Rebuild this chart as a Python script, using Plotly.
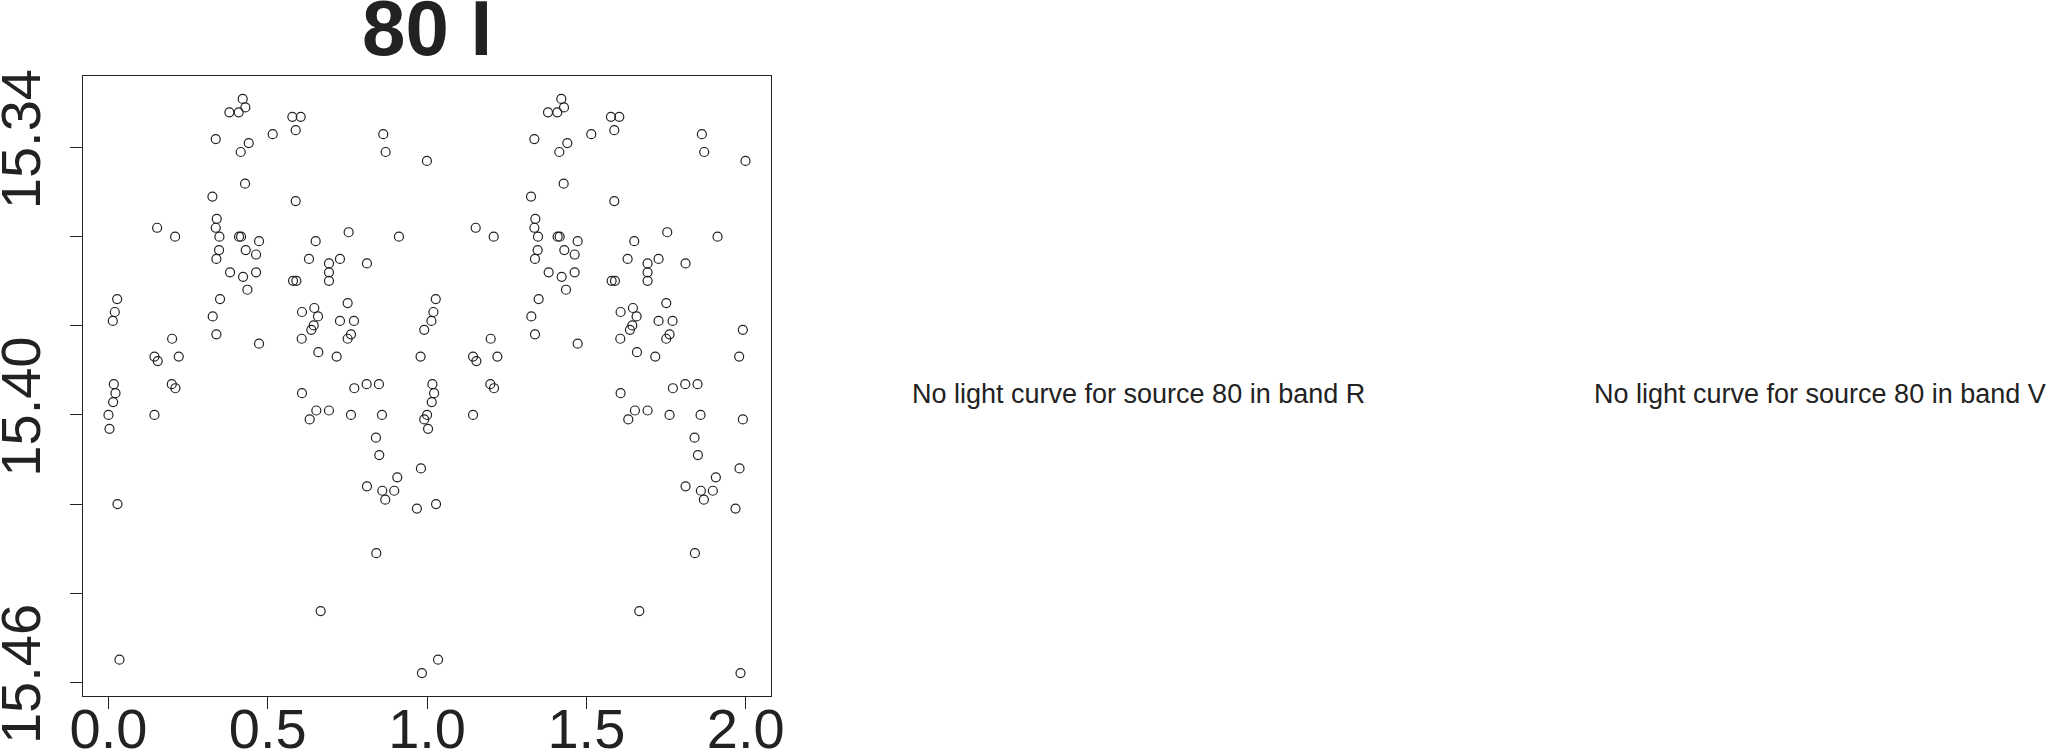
import plotly.graph_objects as go

# Phase-folded light curve, source 80, band I (phase in [0,1), magnitude)
phase = [0.4213, 0.3795, 0.4088, 0.4297, 0.5771, 0.6033, 0.5876, 0.5154, 0.3367, 0.4402,
         0.4151, 0.8625, 0.8699, 0.9995, 0.4287, 0.3262, 0.5876, 0.1526, 0.2091, 0.3398,
         0.3367, 0.3482, 0.4098, 0.4161, 0.4726, 0.3471, 0.4308, 0.4632, 0.3387, 0.3816,
         0.4224, 0.4632, 0.4360, 0.3502, 0.3272, 0.3387, 0.4726, 0.6503, 0.7538, 0.9117,
         0.6294, 0.6921, 0.7266, 0.8113, 0.6921, 0.5792, 0.5897, 0.6921, 0.0272, 0.0199,
         0.0136, 0.1997, 0.1443, 0.1547, 0.2206, 0.6074, 0.6461, 0.6576, 0.7507, 0.7266,
         0.7705, 0.6441, 0.6367, 0.7611, 0.7507, 0.6064, 0.6587, 0.7162, 0.9796, 0.9911,
         0.0167, 0.1986, 0.2101, 0.0220, 0.0146, 0.0000, 0.0031, 0.1443, 0.0282, 0.0345,
         0.6074, 0.6524, 0.6921, 0.6315, 0.7611, 0.8584, 0.7716, 0.8103, 0.8489, 0.8395,
         0.8500, 0.9807, 0.9064, 0.8113, 0.8594, 0.8970, 0.8688, 0.9681, 0.8406, 0.6660,
         0.9838, 0.9911]
mag = [15.3291, 15.3321, 15.3321, 15.3310, 15.3331, 15.3331, 15.3361, 15.3370, 15.3381, 15.3390,
       15.3410, 15.3370, 15.3410, 15.3430, 15.3481, 15.3510, 15.3520, 15.3580, 15.3600, 15.3560,
       15.3580, 15.3600, 15.3600, 15.3600, 15.3610, 15.3630, 15.3630, 15.3640, 15.3650, 15.3680,
       15.3690, 15.3680, 15.3719, 15.3740, 15.3779, 15.3819, 15.3840, 15.3610, 15.3590, 15.3600,
       15.3650, 15.3660, 15.3650, 15.3660, 15.3680, 15.3699, 15.3699, 15.3699, 15.3740, 15.3769,
       15.3789, 15.3829, 15.3869, 15.3879, 15.3869, 15.3769, 15.3760, 15.3779, 15.3749, 15.3789,
       15.3789, 15.3799, 15.3809, 15.3819, 15.3829, 15.3829, 15.3859, 15.3869, 15.3869, 15.3809,
       15.3931, 15.3931, 15.3940, 15.3951, 15.3971, 15.4000, 15.4031, 15.4000, 15.4200, 15.4549,
       15.3951, 15.3990, 15.3990, 15.4010, 15.4000, 15.4000, 15.3940, 15.3931, 15.3931, 15.4051,
       15.4090, 15.4120, 15.4140, 15.4160, 15.4170, 15.4170, 15.4190, 15.4210, 15.4310, 15.4440,
       15.4579, 15.4010]

x_tickvals = [0.0, 0.5, 1.0, 1.5, 2.0]
x_ticktext = ["0.0", "0.5", "1.0", "1.5", "2.0"]
y_tickvals = [15.34, 15.36, 15.38, 15.40, 15.42, 15.44, 15.46]
y_ticktext = ["15.34", "", "", "15.40", "", "", "15.46"]

title_text = "80 I"
missing_R = "No light curve for source 80 in band R"
missing_V = "No light curve for source 80 in band V"

# two cycles shown: phase and phase + 1
x_all = phase + [p + 1 for p in phase]
y_all = mag + mag

INK = "#222222"
FONT = "Liberation Sans, Arial, Helvetica, sans-serif"

fig = go.Figure()
fig.add_trace(go.Scatter(
    x=x_all, y=y_all, mode="markers",
    marker=dict(symbol="circle-open", size=9, color=INK, line=dict(width=1.2, color=INK)),
    showlegend=False, hoverinfo="x+y",
))

xmin, xmax = min(x_all), max(x_all)
ymin, ymax = min(y_all), max(y_all)
xpad = 0.04 * (xmax - xmin)
ypad = 0.04 * (ymax - ymin)

fig.update_layout(
    width=2050, height=753,
    margin=dict(l=83, r=1279, t=76, b=57, autoexpand=False),
    paper_bgcolor="white", plot_bgcolor="white",
    font=dict(family=FONT, color=INK),
    xaxis=dict(
        range=[xmin - xpad, xmax + xpad],
        tickvals=x_tickvals, ticktext=x_ticktext,
        ticks="outside", ticklen=12, tickwidth=1, tickcolor=INK,
        showline=True, mirror=True, linecolor=INK, linewidth=1.3,
        showgrid=False, zeroline=False, ticklabelstandoff=-28,
        tickfont=dict(size=56, family=FONT, color=INK),
    ),
    yaxis=dict(
        range=[ymax + ypad, ymin - ypad],
        tickvals=y_tickvals, ticktext=y_ticktext,
        ticks="outside", ticklen=12, tickwidth=1, tickcolor=INK,
        showline=True, mirror=True, linecolor=INK, linewidth=1.3,
        showgrid=False, zeroline=False, tickangle=-90, ticklabelstandoff=7,
        tickfont=dict(size=56, family=FONT, color=INK),
    ),
    annotations=[
        dict(text="<b>" + title_text + "</b>", xref="paper", yref="paper",
             x=0.5, y=1.0777, xanchor="center", yanchor="middle", showarrow=False,
             font=dict(size=78, family=FONT, color=INK)),
        dict(text=missing_R, xref="paper", yref="paper",
             x=1.5347, y=0.4866, xanchor="center", yanchor="middle", showarrow=False,
             font=dict(size=27, family=FONT, color=INK)),
        dict(text=missing_V, xref="paper", yref="paper",
             x=2.5241, y=0.4866, xanchor="center", yanchor="middle", showarrow=False,
             font=dict(size=27, family=FONT, color=INK)),
    ],
)

fig.write_html("out.html", config={"displayModeBar": False},
               post_script="document.body.style.margin='0';document.body.style.overflow='hidden';")
